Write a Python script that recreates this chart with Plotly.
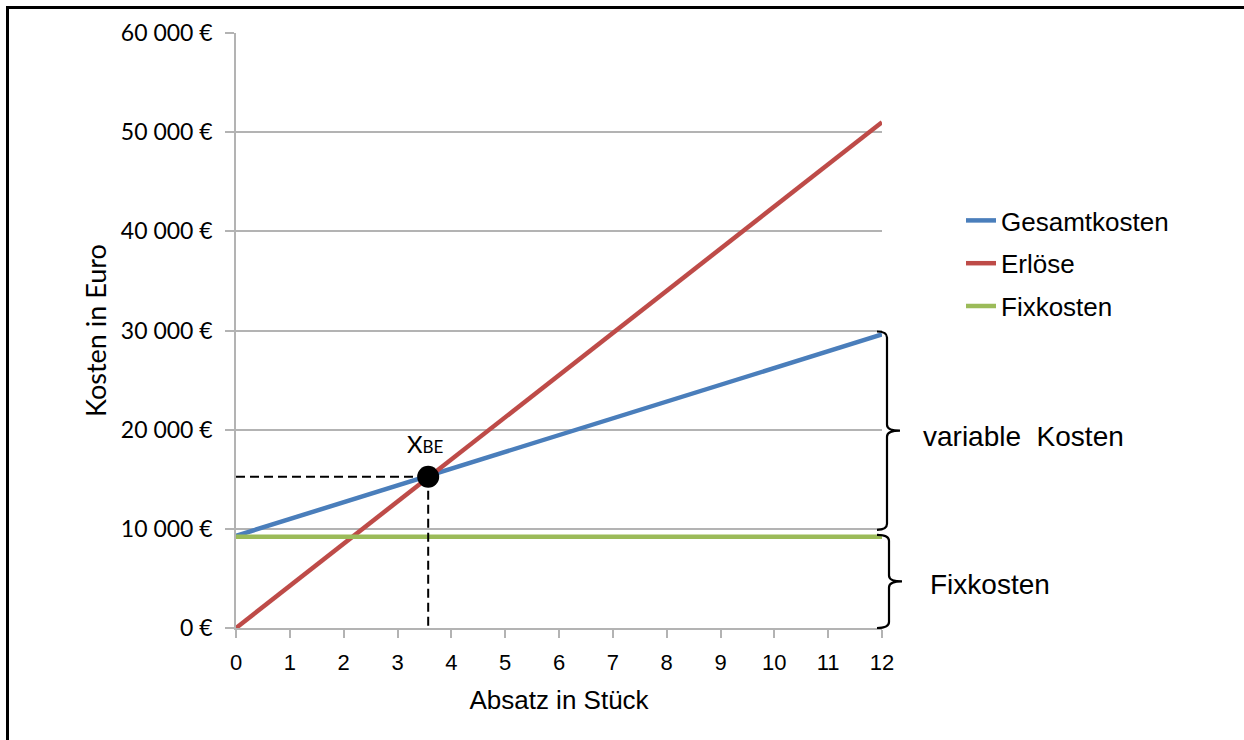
import plotly.graph_objects as go

# ---------------- data ----------------
absatz = [0, 1, 2, 3, 4, 5, 6, 7, 8, 9, 10, 11, 12]
gesamtkosten = [9300, 11000, 12700, 14400, 16000, 17700, 19400, 21100, 22800, 24500, 26200, 27900, 29600]
erloese = [0, 4250, 8500, 12750, 17000, 21250, 25500, 29750, 34000, 38250, 42500, 46750, 51000]
fixkosten = [9200, 9200, 9200, 9200, 9200, 9200, 9200, 9200, 9200, 9200, 9200, 9200, 9200]
break_even_x = 3.57
break_even_y = 15250
y_tick_values = [0, 10000, 20000, 30000, 40000, 50000, 60000]
y_tick_labels = ["0 €", "10 000 €", "20 000 €", "30 000 €", "40 000 €", "50 000 €", "60 000 €"]
x_tick_values = [0, 1, 2, 3, 4, 5, 6, 7, 8, 9, 10, 11, 12]
# brace spans (y ranges, in euro)
brace_var = [9900, 29900]
brace_fix = [0, 9400]

# ---------------- layout constants ----------------
W, H = 1244, 740
L, R, T, B = 236, 882, 33, 628
Y_RANGE = [0, 60000]
GRID = "#b3b3b3"
ARIAL = "Liberation Sans, Arial, sans-serif"
CAL = "Lato, Calibri, sans-serif"

def px_to_paper_x(px):
    return (px - L) / (R - L)

def px_to_paper_y(py):
    return (B - py) / (B - T)

def val_to_paper_y(v):
    return (v - Y_RANGE[0]) / (Y_RANGE[1] - Y_RANGE[0])

fig = go.Figure()

fig.add_trace(go.Scatter(x=absatz, y=gesamtkosten, mode="lines", name="Gesamtkosten",
                         line=dict(color="#4A7EBB", width=4.5), legendgroup="g1"))
fig.add_trace(go.Scatter(x=absatz, y=erloese, mode="lines", name="Erlöse",
                         line=dict(color="#BE4B48", width=4.5), legendgroup="g2"))
fig.add_trace(go.Scatter(x=absatz, y=fixkosten, mode="lines", name="Fixkosten",
                         line=dict(color="#9BBB59", width=4.5), legendgroup="g3"))

# dashed helper lines to break-even point
fig.add_trace(go.Scatter(x=[absatz[0], break_even_x], y=[break_even_y, break_even_y], mode="lines",
                         line=dict(color="black", width=2, dash="9px,5px"), showlegend=False))
fig.add_trace(go.Scatter(x=[break_even_x, break_even_x], y=[break_even_y, y_tick_values[0]], mode="lines",
                         line=dict(color="black", width=2, dash="9px,5px"), showlegend=False))
fig.add_trace(go.Scatter(x=[break_even_x], y=[break_even_y], mode="markers",
                         marker=dict(color="black", size=22), showlegend=False))

shapes = []
# image frame (left and top border lines)
shapes.append(dict(type="line", xref="paper", yref="paper",
                   x0=px_to_paper_x(7.5), x1=px_to_paper_x(7.5),
                   y0=px_to_paper_y(6), y1=px_to_paper_y(760),
                   line=dict(color="black", width=3)))
shapes.append(dict(type="line", xref="paper", yref="paper",
                   x0=px_to_paper_x(6), x1=px_to_paper_x(1260),
                   y0=px_to_paper_y(7.5), y1=px_to_paper_y(7.5),
                   line=dict(color="black", width=3)))

def brace(y0v, y1v, xstem, tip=14, hook=10, curve=6):
    """Curly brace drawn in paper coordinates; y given as values, x as pixels."""
    xs = px_to_paper_x(xstem)
    xh = px_to_paper_x(xstem - hook)
    xt = px_to_paper_x(xstem + tip)
    y0 = val_to_paper_y(y0v)
    y1 = val_to_paper_y(y1v)
    ym = (y0 + y1) / 2
    d = curve / (B - T)
    path = (f"M {xh},{y1} Q {xs},{y1} {xs},{y1-d} "
            f"L {xs},{ym+d} Q {xs},{ym} {xt},{ym} "
            f"Q {xs},{ym} {xs},{ym-d} "
            f"L {xs},{y0+d} Q {xs},{y0} {xh},{y0}")
    return dict(type="path", xref="paper", yref="paper",
                path=path, line=dict(color="black", width=2.2))

shapes.append(brace(brace_var[0], brace_var[1], xstem=887, tip=13, hook=10))
shapes.append(brace(brace_fix[0], brace_fix[1], xstem=889, tip=13, hook=12))

annotations = [
    dict(x=break_even_x, y=break_even_y, xref="x", yref="y", yshift=33, xshift=-3,
         text="X<span style='font-size:17px'>BE</span>", showarrow=False,
         font=dict(family=CAL, size=24, color="black")),
    dict(x=px_to_paper_x(921), y=px_to_paper_y(436), xref="paper", yref="paper",
         xanchor="left", yanchor="middle", text="variable&nbsp;&nbsp;Kosten", showarrow=False,
         font=dict(family=ARIAL, size=28, color="black")),
    dict(x=px_to_paper_x(928), y=px_to_paper_y(584), xref="paper", yref="paper",
         xanchor="left", yanchor="middle", text="Fixkosten", showarrow=False,
         font=dict(family=ARIAL, size=28, color="black")),
]

fig.update_layout(
    width=W, height=H,
    margin=dict(l=L, r=W - R, t=T, b=H - B, autoexpand=False),
    paper_bgcolor="white", plot_bgcolor="white",
    showlegend=True,
    legend=dict(x=px_to_paper_x(961), y=px_to_paper_y(197), xanchor="left", yanchor="top",
                font=dict(family=ARIAL, size=26, color="black"),
                traceorder="grouped", tracegroupgap=6, bgcolor="rgba(0,0,0,0)"),
    shapes=shapes,
    annotations=annotations,
    xaxis=dict(range=[0, 12], tickvals=x_tick_values, showgrid=False, zeroline=False,
               showline=True, linecolor=GRID, linewidth=1.5,
               ticks="outside", ticklen=8, tickcolor=GRID, tickwidth=1.5,
               tickfont=dict(family=ARIAL, size=22, color="black"), ticklabelstandoff=6,
               title=dict(text="Absatz in Stück", font=dict(family=ARIAL, size=26, color="black"), standoff=17),
               fixedrange=True),
    yaxis=dict(range=Y_RANGE, tickvals=y_tick_values, ticktext=y_tick_labels,
               showgrid=True, gridcolor=GRID, gridwidth=1.5, zeroline=False,
               showline=True, linecolor=GRID, linewidth=1.5,
               ticks="outside", ticklen=9, tickcolor=GRID, tickwidth=1.5,
               tickfont=dict(family=CAL, size=23, color="black"), ticklabelstandoff=8,
               title=dict(text="Kosten in Euro", font=dict(family=CAL, size=27, color="black"), standoff=6),
               fixedrange=True),
)

fig.write_html("out.html", post_script="document.body.style.margin='0px';",
               config={"displayModeBar": False})
